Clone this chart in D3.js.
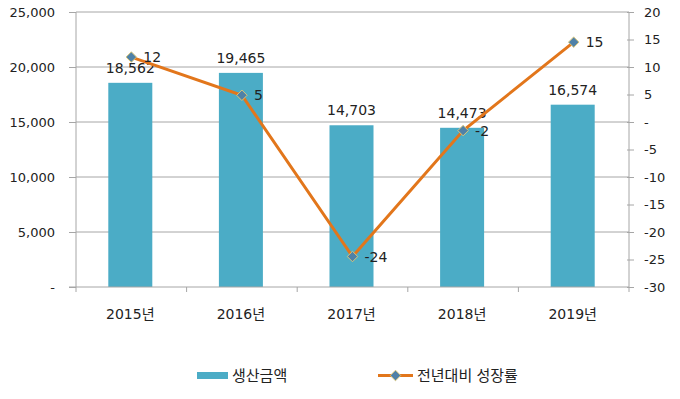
<!DOCTYPE html>
<html lang="ko">
<head>
<meta charset="utf-8"/>
<title>생산금액 및 전년대비 성장률</title>
<script src="https://d3js.org/d3.v7.min.js"></script>
<style>
body { margin: 0; background: #fff; }
text { font-family: "DejaVu Sans", "Noto Sans CJK KR", sans-serif; fill: #222; }
.axis path, .axis line { stroke: #a6a6a6; }
.grid line { stroke: #a6a6a6; }
.bar { fill: #4bacc6; }
.growth { fill: none; stroke: #e2761b; stroke-width: 3; }
.marker { fill: #4f81a8; stroke: #d9c67a; stroke-width: 1; }
</style>
</head>
<body>
<div id="chart"></div>
<script>
// data
var years = ["2015년", "2016년", "2017년", "2018년", "2019년"];
var amounts = [18562, 19465, 14703, 14473, 16574];   // 생산금액
var growth = [11.8, 4.86, -24.46, -1.56, 14.52];     // 전년대비 성장률 (%)
var leftTicks = [0, 5000, 10000, 15000, 20000, 25000];
var rightTicks = [-30, -25, -20, -15, -10, -5, 0, 5, 10, 15, 20];

var w = 680, h = 399;
// plot area edges
var pLeft = 76, pRight = 629, pTop = 12, pBottom = 287;

var svg = d3.select("#chart").append("svg")
    .attr("width", w)
    .attr("height", h);

var xScale = d3.scaleBand()
    .domain(years)
    .range([pLeft, pRight]);

var yLeft = d3.scaleLinear()
    .domain([0, 25000])
    .range([pBottom, pTop]);

var yRight = d3.scaleLinear()
    .domain([-30, 20])
    .range([pBottom, pTop]);

function cx(i){ return xScale(years[i]) + xScale.bandwidth() / 2; }

// gridlines (every 5,000)
svg.append("g").attr("class", "grid")
  .selectAll("line")
  .data(leftTicks.slice(1))
  .enter().append("line")
    .attr("x1", pLeft).attr("x2", pRight)
    .attr("y1", function(d){ return yLeft(d); })
    .attr("y2", function(d){ return yLeft(d); });

// bars
var barW = 44;
svg.selectAll(".bar")
  .data(amounts)
  .enter().append("rect")
    .attr("class", "bar")
    .attr("x", function(d, i){ return cx(i) - barW / 2 - 1; })
    .attr("y", function(d){ return yLeft(d); })
    .attr("width", barW)
    .attr("height", function(d){ return pBottom - yLeft(d); });

// left axis
var leftAxis = d3.axisLeft(yLeft)
    .tickValues(leftTicks)
    .tickSize(7)
    .tickPadding(14)
    .tickFormat(function(d){ return d === 0 ? "-" : d3.format(",")(d); });
svg.append("g").attr("class", "axis")
    .attr("transform", "translate(" + pLeft + ",0)")
    .call(leftAxis)
    .call(function(g){ g.select(".domain").attr("d", "M0," + pTop + "V" + (pBottom + 5)); })
    .selectAll("text").style("font-size", "13px");

// right axis
var rightAxis = d3.axisRight(yRight)
    .tickValues(rightTicks)
    .tickSize(5)
    .tickPadding(10)
    .tickFormat(function(d){ return d === 0 ? "-" : String(d); });
svg.append("g").attr("class", "axis")
    .attr("transform", "translate(" + pRight + ",0)")
    .call(rightAxis)
    .call(function(g){ g.select(".domain").attr("d", "M0," + pTop + "V" + (pBottom + 5)); })
    .call(function(g){ g.selectAll(".tick line").attr("x1", -2); })
    .selectAll("text").style("font-size", "13px");

// bottom axis: ticks at category boundaries
var xg = svg.append("g").attr("class", "axis");
xg.append("line")
    .attr("x1", pLeft - 7).attr("x2", pRight)
    .attr("y1", pBottom).attr("y2", pBottom);
xg.selectAll(".sep")
  .data(years.slice(1))
  .enter().append("line")
    .attr("x1", function(d){ return xScale(d); })
    .attr("x2", function(d){ return xScale(d); })
    .attr("y1", pBottom).attr("y2", pBottom + 5);
xg.selectAll(".cat")
  .data(years)
  .enter().append("text")
    .attr("x", function(d, i){ return cx(i) - 1; })
    .attr("y", pBottom + 32)
    .attr("text-anchor", "middle")
    .style("font-size", "14px")
    .text(function(d){ return d; });

// bar value labels
svg.selectAll(".amt")
  .data(amounts)
  .enter().append("text")
    .attr("x", function(d, i){ return cx(i) - 1; })
    .attr("y", function(d){ return yLeft(d) - 10; })
    .attr("text-anchor", "middle")
    .style("font-size", "14px")
    .text(function(d){ return d3.format(",")(d); });

// growth line
var line = d3.line()
    .x(function(d, i){ return cx(i); })
    .y(function(d){ return yRight(d); });

svg.append("path")
    .datum(growth)
    .attr("class", "growth")
    .attr("d", line);

var diamond = d3.symbol().type(d3.symbolDiamond2).size(70);
svg.selectAll(".marker")
  .data(growth)
  .enter().append("path")
    .attr("class", "marker")
    .attr("d", diamond)
    .attr("transform", function(d, i){ return "translate(" + cx(i) + "," + yRight(d) + ")"; });

svg.selectAll(".gl")
  .data(growth)
  .enter().append("text")
    .attr("x", function(d, i){ return cx(i) + 12; })
    .attr("y", function(d){ return yRight(d) + 5; })
    .style("font-size", "14px")
    .text(function(d){ return String(Math.round(d)); });

// legend
var lg = svg.append("g");
lg.append("rect")
    .attr("x", 197).attr("y", 372)
    .attr("width", 31).attr("height", 7)
    .attr("class", "bar");
lg.append("text")
    .attr("x", 232).attr("y", 381)
    .style("font-size", "15px")
    .style("font-family", "'Noto Sans CJK KR', sans-serif")
    .text("생산금액");
lg.append("line")
    .attr("x1", 378).attr("x2", 413)
    .attr("y1", 375.5).attr("y2", 375.5)
    .attr("class", "growth");
lg.append("path")
    .attr("class", "marker")
    .attr("d", diamond)
    .attr("transform", "translate(395.5,375.5)");
lg.append("text")
    .attr("x", 417).attr("y", 381)
    .style("font-size", "15px")
    .style("font-family", "'Noto Sans CJK KR', sans-serif")
    .text("전년대비 성장률");
</script>
</body>
</html>
